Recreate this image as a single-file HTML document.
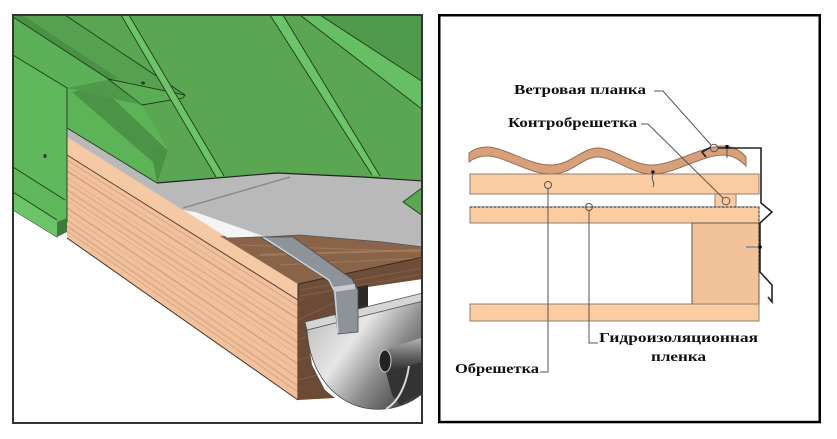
<!DOCTYPE html>
<html><head><meta charset="utf-8">
<style>html,body{margin:0;padding:0;background:#fff;}svg{display:block}</style>
</head>
<body>
<svg width="837" height="439" viewBox="0 0 837 439" xmlns="http://www.w3.org/2000/svg">
<defs>
  <clipPath id="lp"><rect x="13" y="15" width="409" height="408"/></clipPath>
  <clipPath id="side"><polygon points="67,155 298,300 298,400 67,238"/></clipPath>
  <clipPath id="inner"><polygon points="67,88 108,80 142,105 168,150 157,183 67,128"/></clipPath>
  <clipPath id="raf"><polygon points="220,236 300,234 383,241 423,246 423,280 368,287 338,292 298,300 298,284"/></clipPath>
  <clipPath id="endf"><polygon points="298,300 340,291 340,330 307,330 312,365 325,390 335,398 298,400"/></clipPath>
  <linearGradient id="gut" x1="305" y1="318" x2="423" y2="405" gradientUnits="userSpaceOnUse">
    <stop offset="0" stop-color="#bdbdbd"/>
    <stop offset="0.35" stop-color="#e6e6e6"/>
    <stop offset="0.62" stop-color="#8c8c8c"/>
    <stop offset="1" stop-color="#2c2c2c"/>
  </linearGradient>
  <linearGradient id="cyl" x1="0" y1="0" x2="0" y2="1">
    <stop offset="0" stop-color="#b8b8b8"/>
    <stop offset="0.5" stop-color="#6a6a6a"/>
    <stop offset="1" stop-color="#2a2a2a"/>
  </linearGradient>
</defs>

<!-- ================= LEFT PANEL ================= -->
<g clip-path="url(#lp)">
  <polygon points="67,150 298,298 298,400 67,238" fill="#f0c19c"/>
  <g clip-path="url(#side)" fill="none" stroke="#c48a62">
    <line x1="67" y1="160" x2="298" y2="306" stroke-opacity="0.5"/>
    <line x1="67" y1="166" x2="298" y2="313" stroke-opacity="0.3"/>
    <line x1="67" y1="171" x2="298" y2="319" stroke-opacity="0.6" stroke-width="1.5"/>
    <line x1="67" y1="178" x2="298" y2="328" stroke-opacity="0.3"/>
    <line x1="67" y1="183" x2="298" y2="334" stroke-opacity="0.5"/>
    <line x1="67" y1="190" x2="298" y2="342" stroke-opacity="0.35" stroke-width="2"/>
    <line x1="67" y1="196" x2="298" y2="349" stroke-opacity="0.5"/>
    <line x1="67" y1="201" x2="298" y2="355" stroke-opacity="0.3"/>
    <line x1="67" y1="208" x2="298" y2="364" stroke-opacity="0.55" stroke-width="1.5"/>
    <line x1="67" y1="214" x2="298" y2="371" stroke-opacity="0.3"/>
    <line x1="67" y1="220" x2="298" y2="378" stroke-opacity="0.5"/>
    <line x1="67" y1="226" x2="298" y2="386" stroke-opacity="0.35" stroke-width="2"/>
    <line x1="67" y1="231" x2="298" y2="392" stroke-opacity="0.5"/>
  </g>
  <polygon points="67,133 298,283 298,300 67,155" fill="#f4c9a4"/>
  <line x1="67" y1="155" x2="298" y2="300" stroke="#5a3e2e" stroke-width="1"/>
  <line x1="67" y1="238" x2="298" y2="400" stroke="#4a3428" stroke-width="1"/>

  <polygon points="220,236 300,234 383,241 423,246 423,257 298,284" fill="#8a6448"/>
  <polygon points="298,284 423,257 423,280 368,287 338,292 298,300" fill="#6e4e38"/>
  <g clip-path="url(#raf)" stroke="#b08a68" stroke-opacity="0.55" fill="none">
    <line x1="240" y1="245" x2="420" y2="252"/>
    <line x1="260" y1="255" x2="423" y2="250" stroke-width="2"/>
    <line x1="280" y1="265" x2="423" y2="258"/>
    <line x1="300" y1="290" x2="423" y2="268" stroke-opacity="0.3"/>
    <line x1="300" y1="296" x2="423" y2="274" stroke-opacity="0.3"/>
  </g>
  <line x1="298" y1="284" x2="423" y2="257" stroke="#3a2a20" stroke-width="1"/>
  <line x1="298" y1="284" x2="298" y2="400" stroke="#3a2a20" stroke-width="1"/>

  <polygon points="298,300 340,291 340,330 307,330 312,365 325,390 335,398 298,400" fill="#6b4a36"/>
  <g clip-path="url(#endf)" stroke="#8e6a50" stroke-opacity="0.6" fill="none">
    <line x1="298" y1="320" x2="340" y2="300"/>
    <line x1="298" y1="340" x2="340" y2="325"/>
    <line x1="298" y1="360" x2="330" y2="352"/>
    <line x1="298" y1="380" x2="330" y2="372"/>
  </g>
  <polygon points="338,290 368,285 368,325 338,330" fill="#2e2a28"/>
  <polygon points="368,287 423,279 423,294 368,308" fill="#ffffff"/>

  <path d="M307,330 C309,372 335,406 372,409 C396,411 414,401 423,393 L423,301 Z" fill="url(#gut)" stroke="#444" stroke-width="0.8"/>
  <polygon points="305,322 423,293 423,301 307,330" fill="#d3d6d8" stroke="#555" stroke-width="0.8"/>
  <polygon points="385,350 423,337 423,362 386,372" fill="url(#cyl)"/>
  <polygon points="386,372 423,362 423,392 400,405 392,395" fill="#333"/>
  <ellipse cx="385" cy="361" rx="6" ry="11" fill="#222" stroke="#c8c8c8" stroke-width="1"/>
  <path d="M409,366 C406,386 398,402 386,409" fill="none" stroke="#d8d8d8" stroke-width="2"/>

  <polygon points="260,237 293,237 352,279 358,290 358,332 338,334 333,291 327,279" fill="#8e9399" stroke="#4a4d50" stroke-width="0.8"/>
  <polyline points="263,237 329,280 335,292 338,333" fill="none" stroke="#d2d6da" stroke-width="1.4"/>
  <polygon points="333,287 355,284 355,289 334,292" fill="#c8ccd0"/>

  <polygon points="67,128 157,183 277,173 363,177 423,181 423,188 403,202 423,215 423,247 383,242 300,235 263,237 228,238 183,210 67,137" fill="#b9b9b9"/>
  <polygon points="183,210 195,212 263,236 228,238" fill="#f4f4f4"/>
  <line x1="183" y1="208" x2="290" y2="177" stroke="#858585" stroke-width="1.3"/>
  <polyline points="228,238 263,237 300,235 383,242 423,247" fill="none" stroke="#555" stroke-width="0.8"/>

  <polygon points="13,15 423,15 423,181 363,177 277,173 157,183 67,128 67,222 57,237 13,210" fill="#5ba653"/>
  <polygon points="22,15 65,15 185,95 142,105 108,80" fill="#55a150"/>
  <polygon points="13,17 22,15 118,78 110,80" fill="#4a9045"/>
  <polygon points="13,17 110,80 67,88 13,55" fill="#5cb057"/>
  <line x1="13" y1="17" x2="110" y2="80" stroke="#1f3a1d" stroke-width="0.9"/>
  <line x1="65" y1="15" x2="185" y2="95" stroke="#1f3a1d" stroke-width="0.9"/>
  <polygon points="67,88 108,80 142,105 168,150 157,183 67,128" fill="#5db458"/>
  <g clip-path="url(#inner)">
    <polygon points="72,92 100,86 178,160 162,170" fill="#4b9446"/>
    <polygon points="150,145 182,163 157,183" fill="#4a9045"/>
  </g>
  <line x1="67" y1="128" x2="157" y2="183" stroke="#1f3a1d" stroke-width="0.9"/>
  <polygon points="108,79 185,95 183,98 142,105" fill="#5aac55" stroke="#1f3a1d" stroke-width="0.9"/>
  <polygon points="67,88 108,80 142,105 100,96" fill="#50994b"/>
  <ellipse cx="143" cy="83" rx="2" ry="1.5" fill="#2a3a28"/>
  <polygon points="13,55 67,88 67,222 57,237 13,210" fill="#5fb85b" stroke="#1f3a1d" stroke-width="0.9"/>
  <polygon points="13,192 57,220 57,237 13,210" fill="#6cc468"/>
  <line x1="13" y1="167" x2="65" y2="200" stroke="#1f3a1d" stroke-width="0.9"/>
  <line x1="13" y1="192" x2="57" y2="220" stroke="#1f3a1d" stroke-width="0.9"/>
  <polygon points="57,222 67,218 67,232 57,237" fill="#3f7a3a"/>
  <ellipse cx="45" cy="156" rx="1.5" ry="2" fill="#2a3a28"/>
  <polygon points="121,15 129,15 224,176 216,177" fill="#6cc468"/>
  <line x1="121" y1="15" x2="216" y2="177" stroke="#1f3a1d" stroke-width="0.9"/>
  <line x1="129" y1="15" x2="224" y2="176" stroke="#1f3a1d" stroke-width="0.9"/>
  <polygon points="270,15 283,15 380,176 372,175" fill="#6cc468"/>
  <line x1="270" y1="15" x2="372" y2="175" stroke="#1f3a1d" stroke-width="0.9"/>
  <line x1="283" y1="15" x2="380" y2="176" stroke="#1f3a1d" stroke-width="0.9"/>
  <polygon points="300,15 320,15 423,82 423,110" fill="#67bf63"/>
  <polygon points="320,15 423,15 423,82" fill="#4f9a4b"/>
  <line x1="300" y1="15" x2="423" y2="110" stroke="#1f3a1d" stroke-width="0.9"/>
  <line x1="320" y1="15" x2="423" y2="82" stroke="#1f3a1d" stroke-width="0.9"/>
  <polyline points="157,183 277,173 363,177 423,181" fill="none" stroke="#222" stroke-width="1.2"/>
  <polygon points="403,202 423,187 423,216" fill="#5ba653" stroke="#1f3a1d" stroke-width="0.9"/>
</g>
<rect x="13" y="15" width="409" height="408" fill="none" stroke="#333" stroke-width="2"/>

<!-- ================= RIGHT PANEL ================= -->
<rect x="439.25" y="15.25" width="380.5" height="406.8" fill="#fff" stroke="#000" stroke-width="2.5"/>

<rect x="470" y="174" width="289" height="20" fill="#fbcba1" stroke="#8d8275" stroke-width="1"/>
<rect x="715" y="194" width="21" height="13" fill="#fbcba1" stroke="#8d8275" stroke-width="1"/>
<rect x="470" y="207" width="289" height="16" fill="#fbcba1" stroke="#8d8275" stroke-width="1"/>
<rect x="692" y="223" width="67" height="81" fill="#f2c29a" stroke="#6b5a4a" stroke-width="1"/>
<rect x="470" y="304" width="289" height="17" fill="#fbcba1" stroke="#8d8275" stroke-width="1"/>
<line x1="470" y1="207" x2="759" y2="207" stroke="#222" stroke-width="1" stroke-dasharray="2,2"/>
<line x1="759" y1="207" x2="759" y2="272" stroke="#222" stroke-width="1" stroke-dasharray="2,2"/>

<path d="M469,153 C474,149 480,147 487,147 C505,147 530,166 552,165 C572,164 582,148 598,148 C614,148 633,166 653,165 C675,164 700,147 722,146 C734,146 742,152 746,157 L746,166 C741,161 734,155 722,155 C700,156 675,174 653,174 C633,175 614,157 598,157 C582,157 572,174 552,174 C530,175 505,156 487,156 C480,156 474,158 469,162 Z" fill="#d6a07a" stroke="#9c6f55" stroke-width="1"/>

<polyline points="711,147 702,152 706,157" fill="none" stroke="#222" stroke-width="1.6"/>
<polyline points="718,148 761,148 761,203 772,212 760,223 760,272 772,285 772,302 768,297" fill="none" stroke="#222" stroke-width="1.6"/>

<rect x="725.5" y="145" width="3" height="3.5" fill="#000"/>
<line x1="727" y1="149" x2="727" y2="158" stroke="#555" stroke-width="1"/>
<rect x="651.5" y="170.5" width="3" height="3" fill="#000"/>
<path d="M653,174 q-1.5,4 0,7 q1.5,3 0,6" fill="none" stroke="#555" stroke-width="1"/>
<line x1="746" y1="247" x2="759" y2="247" stroke="#999" stroke-width="2"/>
<circle cx="760" cy="247" r="1.8" fill="#000"/>

<g fill="none" stroke="#555" stroke-width="1">
  <circle cx="548" cy="185" r="3.5"/>
  <polyline points="548,188.5 548,372 540,372"/>
  <circle cx="589" cy="207" r="3.5"/>
  <polyline points="589,210.5 589,343 598,343"/>
  <polyline points="654,91 663,91 711.5,145.5"/>
  <circle cx="714" cy="148" r="3.8"/>
  <polyline points="641,124 648,124 723.5,198.5"/>
  <circle cx="726" cy="201" r="3.8"/>
</g>

<g font-family="'Liberation Serif', 'DejaVu Serif', serif" font-size="14" font-weight="bold" fill="#111">
  <text x="514" y="94" textLength="132" lengthAdjust="spacingAndGlyphs">Ветровая планка</text>
  <text x="508" y="127" textLength="129" lengthAdjust="spacingAndGlyphs">Контробрешетка</text>
  <text x="455" y="373" textLength="84" lengthAdjust="spacingAndGlyphs">Обрешетка</text>
  <text x="599" y="342" textLength="159" lengthAdjust="spacingAndGlyphs">Гидроизоляционная</text>
  <text x="651" y="361" textLength="55" lengthAdjust="spacingAndGlyphs">пленка</text>
</g>
</svg>
</body>
</html>
